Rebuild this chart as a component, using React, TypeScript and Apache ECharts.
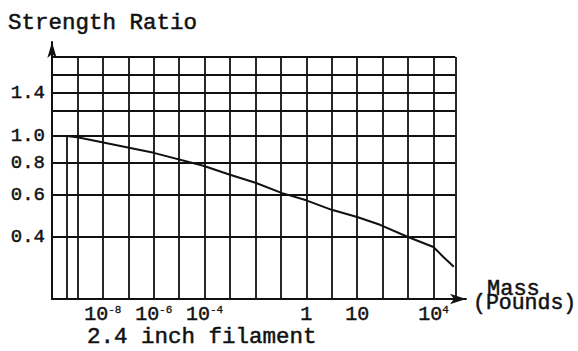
import React, { useEffect, useRef } from "react";
import * as echarts from "echarts";

// Curve: position along the mass axis (decade index as drawn) and strength ratio
const massExponent = [-9.43, -9, -6, -4.05, -3, -2, -0.95, 0, 1, 2, 2.9, 4, 5, 5.39, 5.8];
const strengthRatio = [1.0, 0.99, 0.87, 0.78, 0.72, 0.67, 0.61, 0.57, 0.52, 0.485, 0.45, 0.4, 0.363, 0.33, 0.3];

// Y scale of the chart (non-uniform ruling): ratio stops and their scale units
const yScaleRatios = [0.4, 0.6, 0.8, 1.0, 1.2, 1.4, 1.6, 1.8];
const yScaleUnits = [62, 104, 136, 163, 188, 206, 224, 242];
const yLabelRatios = [0.4, 0.6, 0.8, 1.0, 1.4];

// X ruling and tick labels
const xGridExponents = [-9, -8, -7, -6, -5, -4, -3, -2, -1, 0, 1, 2, 3, 4, 5, 5.86];
const xTickExponents = [-8, -6, -4, 0, 2, 5];
const xTickLabels = ["10{s|-8}", "10{s|-6}", "10{s|-4}", "1", "10", "10{s|4}"];

const FONT = "'Liberation Mono', 'DejaVu Sans Mono', monospace";
const INK = "#111";
const BOLDEN = { textBorderColor: INK, textBorderWidth: 0.45 };

function toUnits(r: number): number {
  const L = yScaleRatios.map((v) => Math.log10(v));
  const U = yScaleUnits;
  const l = Math.log10(r);
  const n = L.length;
  let i = 0;
  if (l <= L[1]) i = 0;
  else if (l >= L[n - 2]) i = n - 2;
  else {
    for (let k = 0; k < n - 1; k++) {
      if (l >= L[k] && l <= L[k + 1]) {
        i = k;
        break;
      }
    }
  }
  return U[i] + ((U[i + 1] - U[i]) * (l - L[i])) / (L[i + 1] - L[i]);
}

export default function App() {
  const ref = useRef<HTMLDivElement>(null);
  useEffect(() => {
    if (!ref.current) return;
    const chart = echarts.init(ref.current, null, { renderer: "svg" });
    const xMin = -10;
    const xRight = xGridExponents[xGridExponents.length - 1];
    const topUnits = toUnits(yScaleRatios[yScaleRatios.length - 1]);

    const gridStyle = { color: INK, width: 1.8, type: "solid" as const };
    const hLines = yScaleRatios.map((r) => {
      const u = toUnits(r);
      const labelled = yLabelRatios.some((v) => Math.abs(v - r) < 1e-9);
      return [
        {
          coord: [xMin, u],
          name: labelled ? r.toFixed(1) : "",
          label: { show: labelled },
        },
        { coord: [xRight, u] },
      ];
    });
    const vLines = xGridExponents.map((x) => [
      { coord: [x, 0], label: { show: false } },
      { coord: [x, topUnits] },
    ]);
    const dropLine = [
      [
        { coord: [massExponent[0], 0], label: { show: false } },
        { coord: [massExponent[0], toUnits(strengthRatio[0])] },
      ],
    ];

    const labelMap = (v: number) => {
      for (let i = 0; i < xTickExponents.length; i++) {
        if (Math.abs(xTickExponents[i] - v) < 1e-6) return xTickLabels[i];
      }
      return "";
    };

    chart.setOption({
      animation: false,
      backgroundColor: "#fff",
      grid: { left: 52, right: 112, top: 42, bottom: 52, containLabel: false },
      xAxis: {
        type: "value",
        min: xMin,
        max: 6.28,
        interval: 1,
        axisLine: {
          show: true,
          onZero: false,
          symbol: ["none", "arrow"],
          symbolSize: [8, 16],
          lineStyle: { color: INK, width: 2 },
        },
        axisTick: { show: false },
        splitLine: { show: false },
        axisLabel: {
          show: true,
          margin: 5,
          color: INK,
          fontFamily: FONT,
          fontSize: 20,
          ...BOLDEN,
          formatter: (v: number) => labelMap(v),
          rich: {
            s: {
              fontSize: 11,
              fontFamily: FONT,
              verticalAlign: "top",
              color: INK,
              padding: [0, 0, 8, 0],
              textBorderColor: INK,
              textBorderWidth: 0.3,
            },
          },
        },
      },
      yAxis: {
        type: "value",
        min: 0,
        max: 257,
        axisLine: {
          show: true,
          onZero: false,
          symbol: ["none", "arrow"],
          symbolSize: [7, 16],
          lineStyle: { color: INK, width: 2 },
        },
        axisTick: { show: false },
        axisLabel: { show: false },
        splitLine: { show: false },
      },
      graphic: [
        {
          type: "text",
          x: 8,
          y: 23,
          style: {
            text: "Strength Ratio",
            font: `22.5px ${FONT}`,
            fill: INK,
            stroke: INK,
            lineWidth: 0.5,
            verticalAlign: "middle",
          },
        },
        {
          type: "text",
          x: 87,
          y: 337,
          style: {
            text: "2.4 inch filament",
            font: `22.5px ${FONT}`,
            fill: INK,
            stroke: INK,
            lineWidth: 0.5,
            verticalAlign: "middle",
          },
        },
        {
          type: "text",
          x: 473,
          y: 283,
          style: {
            text: "{a|Mass}\n{b|(Pounds)}",
            verticalAlign: "top",
            fill: INK,
            rich: {
              a: {
                font: `22px ${FONT}`,
                lineHeight: 13,
                padding: [0, 0, 0, 14],
                fill: INK,
                stroke: INK,
                lineWidth: 0.5,
              },
              b: {
                font: `21.5px ${FONT}`,
                lineHeight: 13,
                fill: INK,
                stroke: INK,
                lineWidth: 0.5,
              },
            },
          },
        },
      ],
      series: [
        {
          type: "line",
          data: massExponent.map((x, i) => [x, toUnits(strengthRatio[i])]),
          symbol: "none",
          lineStyle: { color: INK, width: 2 },
          z: 5,
          markLine: {
            silent: true,
            symbol: ["none", "none"],
            lineStyle: gridStyle,
            label: {
              show: false,
              position: "start",
              distance: 7,
              formatter: "{b}",
              color: INK,
              fontFamily: FONT,
              fontSize: 19,
              ...BOLDEN,
              padding: [11, 0, 0, 0],
            },
            emphasis: { disabled: true },
            data: [...hLines, ...vLines, ...dropLine],
          },
        },
      ],
    });
    return () => chart.dispose();
  }, []);
  return (
    <div
      ref={ref}
      style={{ position: "fixed", left: 0, top: 0, width: 578, height: 351, background: "#fff" }}
    />
  );
}
